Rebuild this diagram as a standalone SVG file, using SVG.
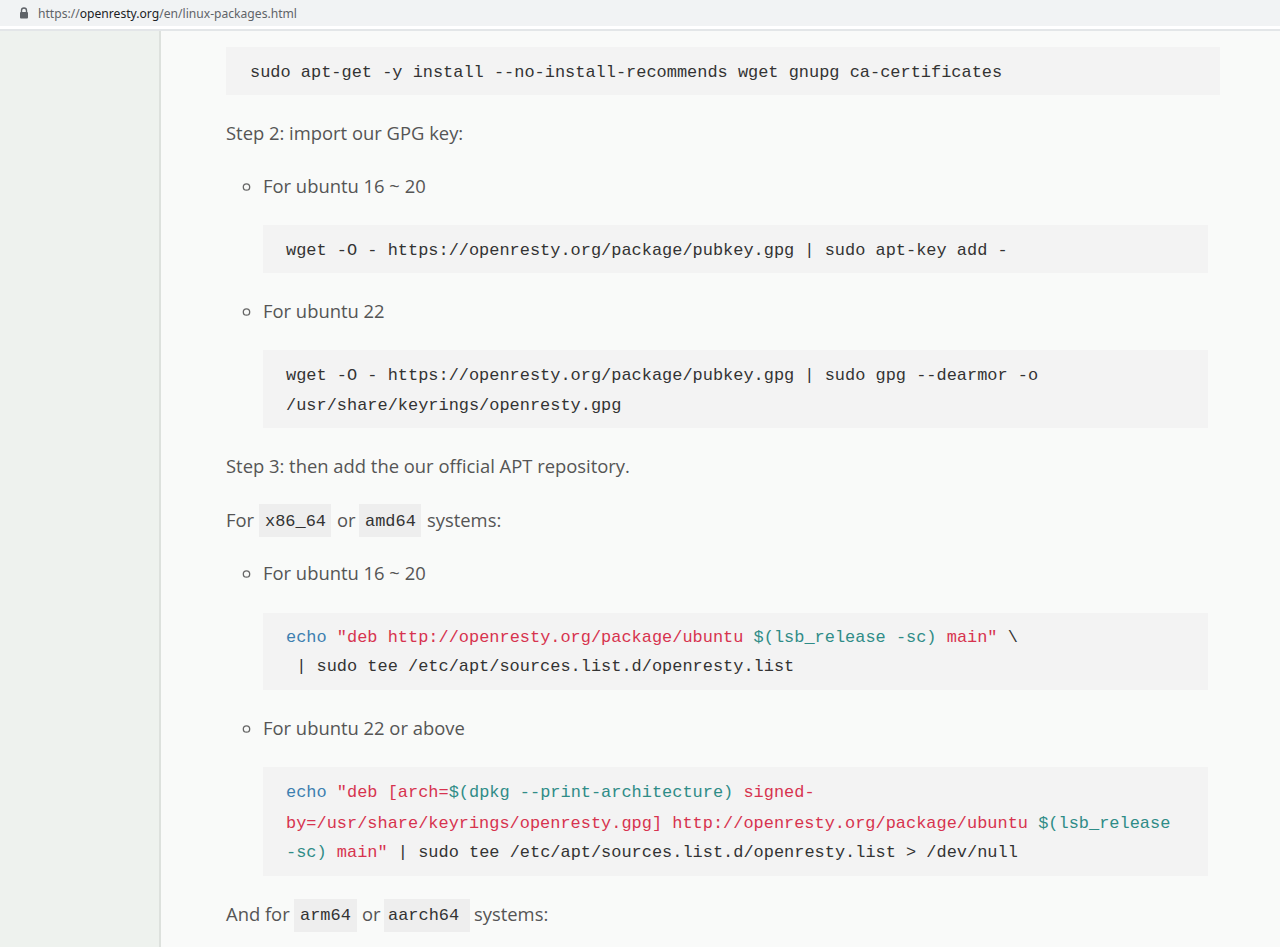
<svg xmlns="http://www.w3.org/2000/svg" width="1280" height="947" viewBox="0 0 1280 947">
<style>
.body{font-family:"Open Sans","Noto Sans",sans-serif;font-size:18.4px;fill:#555}
.mono{font-family:"Liberation Mono","DejaVu Sans Mono",monospace;font-size:16.95px;fill:#333}
.code{fill:#f3f3f3}
.inl{fill:#eeeeee}
.kw{fill:#3d7fb0}
.str{fill:#d7334f}
.var{fill:#2f8c87}
.bul{fill:none;stroke:#666;stroke-width:1.3}
</style>
<rect x="0" y="0" width="1280" height="947" fill="#f9faf9"/>
<g id="browser-bar">
<rect x="0" y="0" width="1280" height="29" fill="#ffffff"/>
<rect x="0" y="0" width="1280" height="26" fill="#f1f3f4"/>
<rect x="0" y="29" width="1280" height="2" fill="#e3e6e8"/>
<rect x="20" y="12" width="8" height="6.5" rx="1" fill="#5f6368"/>
<path d="M21.5 12.5 v-2 a2.5 2.5 0 0 1 5 0 v2" fill="none" stroke="#5f6368" stroke-width="1.4"/>
<text x="38" y="18" font-family="'Noto Sans','Open Sans',sans-serif" font-size="13" fill="#5f6368" textLength="259" lengthAdjust="spacingAndGlyphs">https://<tspan fill="#202124">openresty.org</tspan>/en/linux-packages.html</text>
</g>
<g id="sidebar">
<rect x="0" y="31" width="160" height="916" fill="#eef2ee"/>
<rect x="159" y="31" width="2" height="916" fill="#dde1dd"/>
</g>
<g id="step1-code">
<rect class="code" x="226" y="47" width="994" height="48"/>
<text class="mono" x="250" y="77">sudo apt-get -y install --no-install-recommends wget gnupg ca-certificates</text>
</g>
<g id="step2">
<text class="body" x="226" y="140">Step 2: import our GPG key:</text>
<circle class="bul" cx="246.5" cy="187" r="3.2"/>
<text class="body" x="263" y="193">For ubuntu 16 ~ 20</text>
<rect class="code" x="263" y="225" width="945" height="48"/>
<text class="mono" x="286" y="255">wget -O - https://openresty.org/package/pubkey.gpg | sudo apt-key add -</text>
<circle class="bul" cx="246.5" cy="312" r="3.2"/>
<text class="body" x="263" y="318">For ubuntu 22</text>
<rect class="code" x="263" y="350" width="945" height="78"/>
<text class="mono" x="286" y="380">wget -O - https://openresty.org/package/pubkey.gpg | sudo gpg --dearmor -o</text>
<text class="mono" x="286" y="410">/usr/share/keyrings/openresty.gpg</text>
</g>
<g id="step3">
<text class="body" x="226" y="473">Step 3: then add the our official APT repository.</text>
<rect class="inl" x="259" y="504" width="72" height="33"/>
<rect class="inl" x="359" y="504" width="62" height="33"/>
<text class="body" x="226" y="527">For</text>
<text class="mono" x="265" y="526">x86_64</text>
<text class="body" x="337" y="527">or</text>
<text class="mono" x="365" y="526">amd64</text>
<text class="body" x="427" y="527">systems:</text>
<circle class="bul" cx="246.5" cy="574" r="3.2"/>
<text class="body" x="263" y="580">For ubuntu 16 ~ 20</text>
<rect class="code" x="263" y="613" width="945" height="77"/>
<text class="mono" x="286" y="642" xml:space="preserve"><tspan class="kw">echo</tspan> <tspan class="str">"deb http://openresty.org/package/ubuntu </tspan><tspan class="var">$(lsb_release -sc)</tspan><tspan class="str"> main"</tspan> \</text>
<text class="mono" x="286" y="671" xml:space="preserve"> | sudo tee /etc/apt/sources.list.d/openresty.list</text>
<circle class="bul" cx="246.5" cy="729" r="3.2"/>
<text class="body" x="263" y="735">For ubuntu 22 or above</text>
<rect class="code" x="263" y="767" width="945" height="109"/>
<text class="mono" x="286" y="797" xml:space="preserve"><tspan class="kw">echo</tspan> <tspan class="str">"deb [arch=</tspan><tspan class="var">$(dpkg --print-architecture)</tspan><tspan class="str"> signed-</tspan></text>
<text class="mono" x="286" y="828" xml:space="preserve"><tspan class="str">by=/usr/share/keyrings/openresty.gpg] http://openresty.org/package/ubuntu </tspan><tspan class="var">$(lsb_release</tspan></text>
<text class="mono" x="286" y="857" xml:space="preserve"><tspan class="var">-sc)</tspan><tspan class="str"> main"</tspan> | sudo tee /etc/apt/sources.list.d/openresty.list &gt; /dev/null</text>
</g>
<g id="arm">
<rect class="inl" x="294" y="899" width="63" height="33"/>
<rect class="inl" x="384" y="899" width="86" height="33"/>
<text class="body" x="226" y="921">And for</text>
<text class="mono" x="300" y="920">arm64</text>
<text class="body" x="362" y="921">or</text>
<text class="mono" x="388" y="920">aarch64</text>
<text class="body" x="474" y="921">systems:</text>
</g>
</svg>
